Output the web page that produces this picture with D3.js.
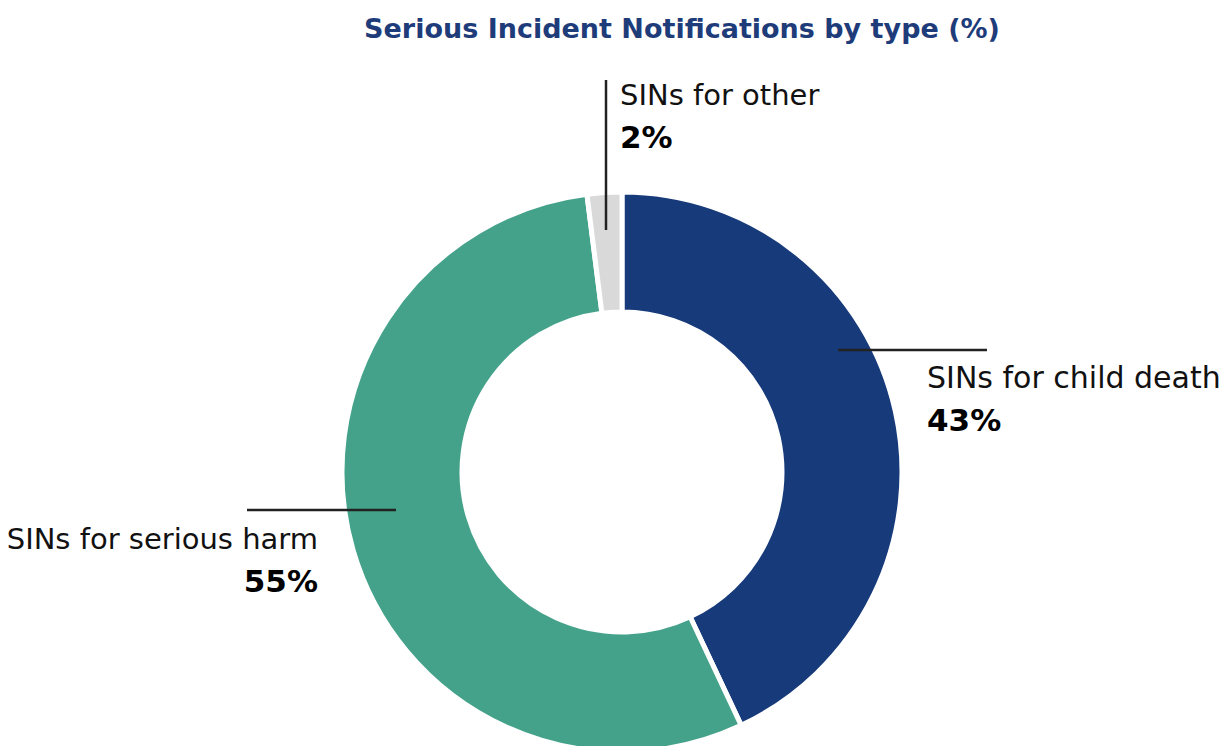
<!DOCTYPE html>
<html>
<head>
<meta charset="utf-8">
<script src="https://cdn.jsdelivr.net/npm/d3@7"></script>
<style>
  body { margin: 0; background: #fff; }
  text { font-family: "DejaVu Sans", sans-serif; }
</style>
</head>
<body>
<div class="chart"></div>
<script>
var width = 1224;
var height = 746;

// data
var labels = ["SINs for child death", "SINs for serious harm", "SINs for other"];
var values = [43, 55, 2];
var colors = ["#173a7a", "#45a28a", "#d9d9d9"];

var cx = 622, cy = 472;
var outerR = 280, innerR = 160;

var svg = d3.select(".chart").append("svg")
    .attr("width", width)
    .attr("height", height);

svg.append("text")
    .attr("x", 682)
    .attr("y", 38)
    .attr("text-anchor", "middle")
    .style("font-size", "27px")
    .style("font-weight", "bold")
    .style("fill", "#1f3c7a")
    .text("Serious Incident Notifications by type (%)");

var pie = d3.pie().sort(null).value(function(d){ return d; });
var arc = d3.arc().innerRadius(innerR).outerRadius(outerR);

var arcs = pie(values);

var g = svg.append("g").attr("transform", "translate(" + cx + "," + cy + ")");

g.selectAll("path")
    .data(arcs)
  .enter().append("path")
    .attr("d", arc)
    .style("fill", function(d, i){ return colors[i]; })
    .style("stroke", "#fff")
    .style("stroke-width", 5);

// leader lines + labels (placed by hand like the original)
var labelPos = [
  {line: [[838, 350], [987, 350]], x: 927, y: 388, anchor: "start", size: 30},
  {line: [[247, 510], [396, 510]], x: 318, y: 549, anchor: "end", size: 29},
  {line: [[606, 80], [606, 230]], x: 620, y: 105, anchor: "start", size: 29}
];

labelPos.forEach(function(p, i){
  svg.append("line")
      .attr("x1", p.line[0][0]).attr("y1", p.line[0][1])
      .attr("x2", p.line[1][0]).attr("y2", p.line[1][1])
      .style("stroke", "#222")
      .style("stroke-width", 2.5);
  svg.append("text")
      .attr("x", p.x).attr("y", p.y)
      .attr("text-anchor", p.anchor)
      .style("font-size", p.size + "px")
      .style("fill", "#111")
      .text(labels[i]);
  svg.append("text")
      .attr("x", p.x).attr("y", p.y + 43)
      .attr("text-anchor", p.anchor)
      .style("font-size", "31px")
      .style("font-weight", "bold")
      .style("fill", "#000")
      .text(values[i] + "%");
});
</script>
</body>
</html>
